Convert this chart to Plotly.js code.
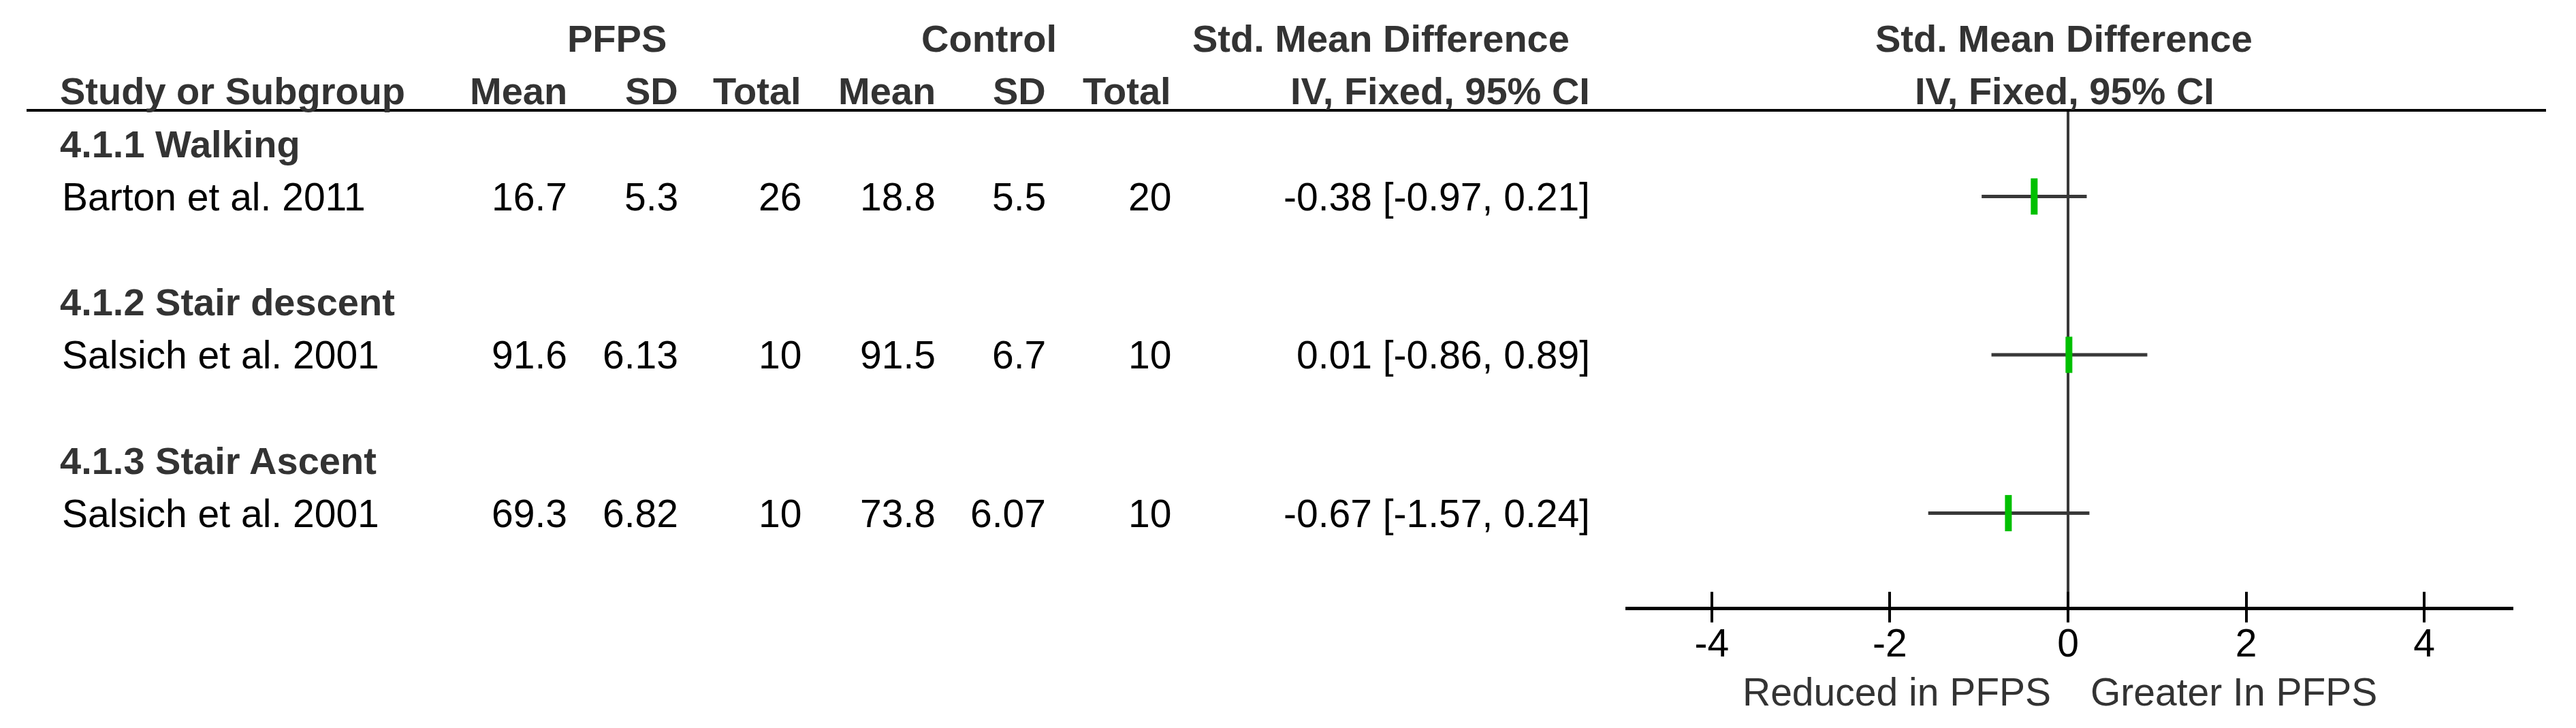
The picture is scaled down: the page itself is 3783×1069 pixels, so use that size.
<!DOCTYPE html>
<html>
<head>
<meta charset="utf-8">
<script src="https://cdn.plot.ly/plotly-3.0.1.min.js"></script>
<style>html,body{margin:0;padding:0;background:#fff;}#chart{width:3783px;height:1069px;}</style>
</head>
<body>
<div id="chart"></div>
<script>
// ---- data ----
const subgroups = ['4.1.1 Walking', '4.1.2 Stair descent', '4.1.3 Stair Ascent'];
const studies = ['Barton et al. 2011', 'Salsich et al. 2001', 'Salsich et al. 2001'];
const pfpsMean = [16.7, 91.6, 69.3];
const pfpsSD = [5.3, 6.13, 6.82];
const pfpsTotal = [26, 10, 10];
const ctrlMean = [18.8, 91.5, 73.8];
const ctrlSD = [5.5, 6.7, 6.07];
const ctrlTotal = [20, 10, 10];
const smd = [-0.38, 0.01, -0.67];
const ciLow = [-0.97, -0.86, -1.57];
const ciHigh = [0.21, 0.89, 0.24];
const tickVals = [-4, -2, 0, 2, 4];
const tickText = ['-4', '-2', '0', '2', '4'];
const groupHeaders = ['PFPS', 'Control', 'Std. Mean Difference', 'Std. Mean Difference'];
const columnHeaders = ['Study or Subgroup', 'Mean', 'SD', 'Total', 'Mean', 'SD', 'Total', 'IV, Fixed, 95% CI', 'IV, Fixed, 95% CI'];
const axisLabels = ['Reduced in PFPS', 'Greater In PFPS'];

// ---- layout config (positions / styles) ----
const W = 3783, H = 1069;
const FONT = 'Liberation Sans, Arial, sans-serif';
const FS = 57, FSB = 56;
const HEAD_COLOR = '#333';
const px = v => v / W;
const groupHeaderX = [906, 1452, 2028, 3031];
const colX = [87, 834, 997, 1178, 1375, 1537, 1721, 2336, 3032];
const colAnchor = ['left', 'right', 'right', 'right', 'right', 'right', 'right', 'right', 'center'];
const studyX = 90;

const ann = [];
function addText(text, x, xanchor, y, bold, color, size) {
  ann.push({
    text: text, x: px(x), xref: 'paper', y: y, yref: 'y', xanchor: xanchor, yanchor: 'middle',
    showarrow: false, borderpad: 0,
    font: {family: FONT, size: size || (bold ? FSB : FS), color: color || '#000', weight: bold ? 'bold' : 'normal'}
  });
}
groupHeaders.forEach((t, i) => addText(t, groupHeaderX[i], 'center', 0, true, HEAD_COLOR));
columnHeaders.forEach((t, i) => addText(t, colX[i], colAnchor[i], 1, true, HEAD_COLOR));

const fmt = v => (v < 0 ? '-' : '') + Math.abs(v).toFixed(2);
const studyRows = [];
subgroups.forEach((g, i) => {
  const rg = 2 + 3 * i, rs = 3 + 3 * i;
  studyRows.push(rs);
  addText(g, colX[0], 'left', rg, true, HEAD_COLOR);
  addText(studies[i], studyX, 'left', rs, false);
  const vals = [pfpsMean[i], pfpsSD[i], pfpsTotal[i], ctrlMean[i], ctrlSD[i], ctrlTotal[i]];
  vals.forEach((v, j) => addText(String(v), colX[j + 1], 'right', rs, false));
  addText(fmt(smd[i]) + ' [' + fmt(ciLow[i]) + ', ' + fmt(ciHigh[i]) + ']', colX[7], 'right', rs, false);
});
// bottom direction labels
ann.push({text: axisLabels[0], x: 0, xref: 'x', xanchor: 'right', xshift: -24, y: 1 - 1016 / H, yref: 'paper', yanchor: 'middle',
  showarrow: false, borderpad: 0, font: {family: FONT, size: FS, color: '#333'}});
ann.push({text: axisLabels[1], x: 0, xref: 'x', xanchor: 'left', xshift: 32, y: 1 - 1016 / H, yref: 'paper', yanchor: 'middle',
  showarrow: false, borderpad: 0, font: {family: FONT, size: FS, color: '#333'}});

const traces = [{
  type: 'scatter', mode: 'markers', x: smd, y: studyRows, xaxis: 'x', yaxis: 'y',
  error_x: {type: 'data', symmetric: false,
    array: smd.map((v, i) => ciHigh[i] - v), arrayminus: smd.map((v, i) => v - ciLow[i]),
    width: 0, thickness: 5, color: '#383838'},
  marker: {symbol: 'line-ns', size: 38, color: '#00c000', line: {color: '#00c000', width: 10}},
  hoverinfo: 'skip', showlegend: false, cliponaxis: false
}];

const xr = [-4.97, 5.0];
const topK = -56 / 77.5, botK = 835 / 77.5;
const yDomBottom = (H - 891) / H;
const layout = {
  width: W, height: H, margin: {l: 0, r: 0, t: 0, b: 0},
  paper_bgcolor: '#fff', plot_bgcolor: 'rgba(0,0,0,0)', showlegend: false,
  font: {family: FONT, size: FS, color: '#000'},
  // main axis: labels + upward ticks
  xaxis: {domain: [2387 / W, 3691 / W], range: xr, anchor: 'y',
    tickmode: 'array', tickvals: tickVals, ticktext: tickText,
    ticks: 'inside', ticklen: 22, tickwidth: 4, tickcolor: '#000',
    showline: true, linewidth: 5, linecolor: '#000', showgrid: false, zeroline: false,
    tickfont: {family: FONT, size: FS, color: '#000'}, fixedrange: true},
  // overlay axis: downward ticks only
  xaxis3: {domain: [2387 / W, 3691 / W], range: xr, anchor: 'y', overlaying: 'x', side: 'bottom',
    tickmode: 'array', tickvals: tickVals, ticks: 'outside', ticklen: 22, tickwidth: 4, tickcolor: '#000',
    showticklabels: false, showline: false, showgrid: false, zeroline: false},
  yaxis: {domain: [yDomBottom, 1], range: [botK, topK], anchor: 'x', visible: false, fixedrange: true},
  annotations: ann,
  shapes: [
    {type: 'line', xref: 'paper', yref: 'paper', x0: px(39), x1: px(3739), y0: 1 - 162 / H, y1: 1 - 162 / H,
      line: {color: '#000', width: 4}},
    {type: 'line', xref: 'x', yref: 'paper', x0: 0, x1: 0, y0: yDomBottom, y1: 1 - 162 / H,
      line: {color: '#383838', width: 4}, layer: 'below'}
  ]
};
traces.push({type: 'scatter', mode: 'markers', x: [], y: [], xaxis: 'x3', yaxis: 'y', showlegend: false, hoverinfo: 'skip'});

Plotly.newPlot('chart', traces, layout, {staticPlot: true, displayModeBar: false});
</script>
</body>
</html>
